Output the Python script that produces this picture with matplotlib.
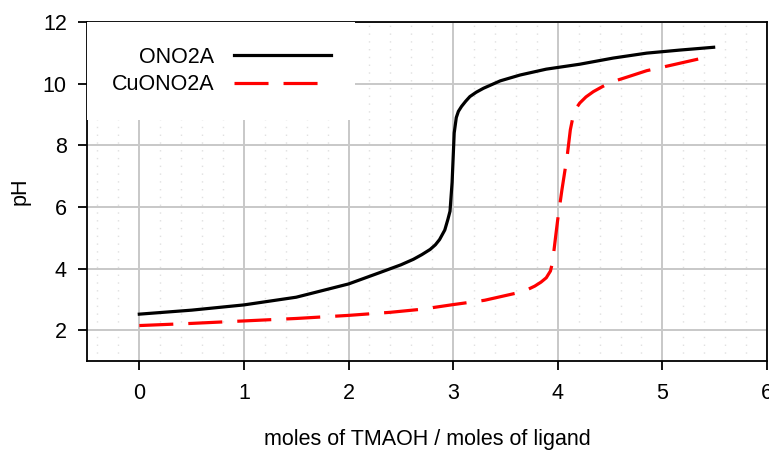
import matplotlib
matplotlib.use("Agg")
import matplotlib.pyplot as plt
import numpy as np

plt.rcParams["font.family"] = ["Liberation Sans", "DejaVu Sans"]

# ONO2A titration (black, solid)
ono2a_x = [0, 0.5, 1.0, 1.5, 2.0, 2.3, 2.5, 2.62, 2.7, 2.78, 2.83, 2.87, 2.92,
           2.95, 2.97, 2.99, 3.01, 3.03, 3.05, 3.08, 3.12, 3.16, 3.22, 3.29,
           3.45, 3.64, 3.89, 4.21, 4.53, 4.85, 5.17, 5.49]
ono2a_ph = [2.52, 2.65, 2.82, 3.07, 3.50, 3.87, 4.12, 4.30, 4.45, 4.62, 4.77,
            4.94, 5.25, 5.6, 5.86, 6.8, 8.4, 8.9, 9.1, 9.26, 9.43, 9.58, 9.72,
            9.85, 10.09, 10.28, 10.47, 10.63, 10.83, 10.99, 11.09, 11.18]

# CuONO2A titration (red, dashed)
cuono2a_x = [0, 0.5, 1.0, 1.5, 2.0, 2.4, 2.7, 3.0, 3.3, 3.6, 3.7, 3.78, 3.84,
             3.89, 3.93, 3.95, 3.98, 4.0, 4.04, 4.09, 4.12, 4.15, 4.18, 4.21,
             4.27, 4.34, 4.43, 4.53, 4.66, 4.85, 5.1, 5.45]
cuono2a_ph = [2.15, 2.22, 2.30, 2.38, 2.48, 2.58, 2.68, 2.83, 2.97, 3.2, 3.3,
              3.43, 3.56, 3.7, 3.92, 4.2, 5.05, 5.6, 6.56, 7.65, 8.5, 9.0,
              9.22, 9.37, 9.57, 9.74, 9.91, 10.07, 10.21, 10.42, 10.61, 10.88]

xticks = [0, 1, 2, 3, 4, 5, 6]
yticks = [2, 4, 6, 8, 10, 12]

fig = plt.figure(figsize=(7.69, 4.51), dpi=100)
ax = fig.add_axes([87 / 769, 1 - 361 / 451, 680 / 769, 339 / 451])

lw = 2.3
ax.plot(ono2a_x, ono2a_ph, color="black", lw=lw, label="ONO2A", zorder=3)
ax.plot(cuono2a_x, cuono2a_ph, color="red", lw=lw, label="CuONO2A", zorder=3,
        linestyle=(0, (24.5 / lw, 10.8 / lw)), dash_capstyle="butt")

ax.set_xlim(-0.5, 6)
ax.set_ylim(1, 12)
ax.set_xticks(xticks)
ax.set_yticks(yticks)
ax.set_xticks(np.arange(-0.4, 6, 0.2), minor=True)

# grids
ax.set_axisbelow(True)
ax.grid(which="major", color="#c8c8c8", lw=1.4)
ax.grid(which="minor", axis="x", color="#e0e0e0", lw=1.0, linestyle=(0, (1.0, 4.6)))

ax.tick_params(which="major", direction="out", length=6.5, width=1.3,
               labelsize=15.5, color="black")
ax.tick_params(axis="x", pad=9)
ax.tick_params(axis="y", pad=8)
ax.tick_params(which="minor", length=0)
for s in ax.spines.values():
    s.set_linewidth(1.3)

ax.set_xlabel("moles of TMAOH / moles of ligand", fontsize=15.5)
ax.xaxis.set_label_coords(0.5, -0.2)
ax.set_ylabel("pH", fontsize=15.5, va="center", ha="center")
ax.yaxis.set_label_coords(-0.0985, 0.5)

leg = ax.legend(loc="upper left", bbox_to_anchor=(0, 1), borderaxespad=0,
                markerfirst=False, frameon=True, facecolor="white",
                edgecolor="none", framealpha=1, fancybox=False, fontsize=15.5,
                handlelength=4.5, handletextpad=0.9, borderpad=1.15,
                labelspacing=0.3)
leg.set_zorder(5)

fig.savefig("out.png", dpi=100)
